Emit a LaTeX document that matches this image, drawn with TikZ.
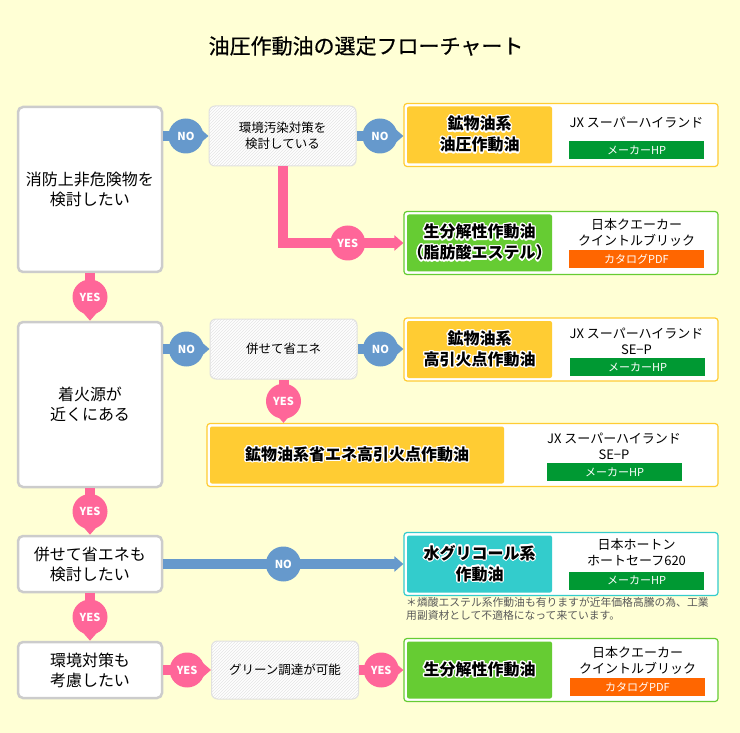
\documentclass[tikz,border=0pt]{standalone}
\usepackage{fontspec}
\setmainfont{Noto Sans CJK JP}
\usepackage[copies]{contour}
\contourlength{1.3pt}
\usetikzlibrary{arrows.meta,patterns,positioning}
\definecolor{bgyellow}{HTML}{FFFFD5}
\definecolor{oilyellow}{HTML}{FFCC33}
\definecolor{oilgreen}{HTML}{66CC33}
\definecolor{oilteal}{HTML}{33CCCC}
\definecolor{hpgreen}{HTML}{009933}
\definecolor{pdforange}{HTML}{FF6600}
\definecolor{noblue}{HTML}{6699CC}
\definecolor{yespink}{HTML}{FF6699}
\newcommand{\halo}[1]{\contour{white}{#1}}

\begin{document}
\begin{tikzpicture}[x=1pt, y=-1pt,
questionnode/.style={rectangle, rounded corners=5pt, draw=black!20, line width=2.5pt, fill=white, minimum width=144pt, align=center, inner sep=0pt, font=\fontsize{16}{20}\selectfont},
checknode/.style={rectangle, rounded corners=6pt, draw=black!12, line width=1pt, preaction={fill=white}, pattern=north east lines, pattern color=black!10, minimum width=147pt, minimum height=60pt, align=center, inner sep=0pt, font=\fontsize{12.5}{16}\selectfont},
frameY/.style={rectangle, rounded corners=3pt, draw=oilyellow, line width=1.2pt, fill=white, minimum width=314pt, minimum height=63pt},
frameG/.style={frameY, draw=oilgreen},
frameT/.style={frameY, draw=oilteal},
oilnodeY/.style={rectangle, rounded corners=2pt, fill=oilyellow, minimum width=145pt, minimum height=57pt, align=center, inner sep=0pt, font=\bfseries\fontsize{16}{21}\selectfont},
oilnodeG/.style={oilnodeY, fill=oilgreen},
oilnodeT/.style={oilnodeY, fill=oilteal},
makernode/.style={align=center, inner sep=0pt, font=\fontsize{13}{16}\selectfont},
buttonG/.style={rectangle, fill=hpgreen, minimum width=135pt, minimum height=18pt, inner sep=0pt, text=white, font=\fontsize{11}{11}\selectfont},
buttonO/.style={buttonG, fill=pdforange},
noline/.style={draw=noblue, line width=10pt, -{Triangle[width=15pt,length=9pt]}},
yesline/.style={noline, draw=yespink},
nocircle/.style={circle, fill=noblue, minimum size=35pt, inner sep=0pt, text=white, font=\bfseries\fontsize{11}{11}\selectfont},
yescircle/.style={nocircle, fill=yespink}]

\fill[bgyellow] (0,0) rectangle (740,733);
\useasboundingbox (0,0) rectangle (740,733);

\node (title) at (366, 46) {\fontsize{21}{21}\selectfont\addfontfeature{FakeBold=0.6}油圧作動油の選定フローチャート};

% left column
\node[questionnode, minimum height=165pt](fireproof) at (90, 189.5){消防上非危険物を\\検討したい};
\node[questionnode, minimum height=165pt](ignition) at (90, 404.5){着火源が\\近くにある};
\node[questionnode, minimum height=56pt](saving) at (90, 564){併せて省エネも\\検討したい};
\node[questionnode, minimum height=56pt](environment) at (90, 670){環境対策も\\考慮したい};

% middle column
\node[checknode](pollution) at (282.5, 136){環境汚染対策を\\検討している};
\node[checknode](savingCheck) at (283.5, 349){併せて省エネ};
\node[checknode, minimum height=58pt](green) at (285, 670){グリーン調達が可能};

% results
\node[frameY](mineralFrame) at (561, 135){};
\node[oilnodeY](mineral) at (479.5, 135){\halo{鉱物油系}\\\halo{油圧作動油}};
\node[makernode](mineralMaker) at (636.5, 123){JX スーパーハイランド};
\node[buttonG](mineralLink) at (636.5, 150){メーカーHP};

\node[frameG](esterFrame) at (561, 243){};
\node[oilnodeG](ester) at (479.5, 243){\halo{生分解性作動油}\\\halo{（脂肪酸エステル）}};
\node[makernode](esterMaker) at (636.5, 233){日本クエーカー\\クイントルブリック};
\node[buttonO](esterLink) at (636.5, 259.5){カタログPDF};

\node[frameY](flashFrame) at (561, 349.5){};
\node[oilnodeY](flash) at (479.5, 349.5){\halo{鉱物油系}\\\halo{高引火点作動油}};
\node[makernode](flashMaker) at (636.5, 341.5){JX スーパーハイランド\\SE−P};
\node[buttonG](flashLink) at (637.5, 367){メーカーHP};

\node[frameY, minimum width=511pt](ecoFrame) at (462.5, 455){};
\node[oilnodeY, minimum width=294pt](eco) at (357, 455){\halo{鉱物油系省エネ高引火点作動油}};
\node[makernode](ecoMaker) at (614, 446){JX スーパーハイランド\\SE−P};
\node[buttonG](ecoLink) at (614.5, 472){メーカーHP};

\node[frameT](glycolFrame) at (561, 564){};
\node[oilnodeT](glycol) at (479.5, 564){\halo{水グリコール系}\\\halo{作動油}};
\node[makernode](glycolMaker) at (636.5, 552.5){日本ホートン\\ホートセーフ620};
\node[buttonG](glycolLink) at (636.5, 580.5){メーカーHP};
\node[anchor=north west, align=left, inner sep=0pt, text=black!65, font=\fontsize{10.8}{13}\selectfont](note) at (406, 597){＊燐酸エステル系作動油も有りますが近年価格高騰の為、工業\\用副資材として不適格になって来ています。};

\node[frameG](bioFrame) at (561, 670){};
\node[oilnodeG](bio) at (479.5, 670){\halo{生分解性作動油}};
\node[makernode](bioMaker) at (637.5, 660.5){日本クエーカー\\クイントルブリック};
\node[buttonO](bioLink) at (637.5, 687){カタログPDF};

% connectors
\draw[noline](fireproof.east |- pollution.west) -- (pollution.west) node[nocircle, midway]{NO};
\draw[noline](pollution.east) -- (pollution.east -| mineralFrame.west) node[nocircle, midway]{NO};
\draw[yesline](pollution.south) |- (esterFrame.west) node[yescircle, pos=0.77]{YES};
\draw[yesline](fireproof.south) -- (ignition.north) node[yescircle, midway]{YES};

\draw[noline](ignition.east |- savingCheck.west) -- (savingCheck.west) node[nocircle, midway]{NO};
\draw[noline](savingCheck.east) -- (savingCheck.east -| flashFrame.west) node[nocircle, midway]{NO};
\draw[yesline](savingCheck.south) -- (savingCheck.south |- ecoFrame.north) node[yescircle, midway]{YES};
\draw[yesline](ignition.south) -- (saving.north) node[yescircle, midway]{YES};

\draw[noline](saving.east) -- (glycolFrame.west) node[nocircle, midway]{NO};
\draw[yesline](saving.south) -- (environment.north) node[yescircle, midway]{YES};

\draw[yesline](environment.east) -- (green.west) node[yescircle, midway]{YES};
\draw[yesline](green.east) -- (bioFrame.west) node[yescircle, midway]{YES};

\end{tikzpicture}
\end{document}
